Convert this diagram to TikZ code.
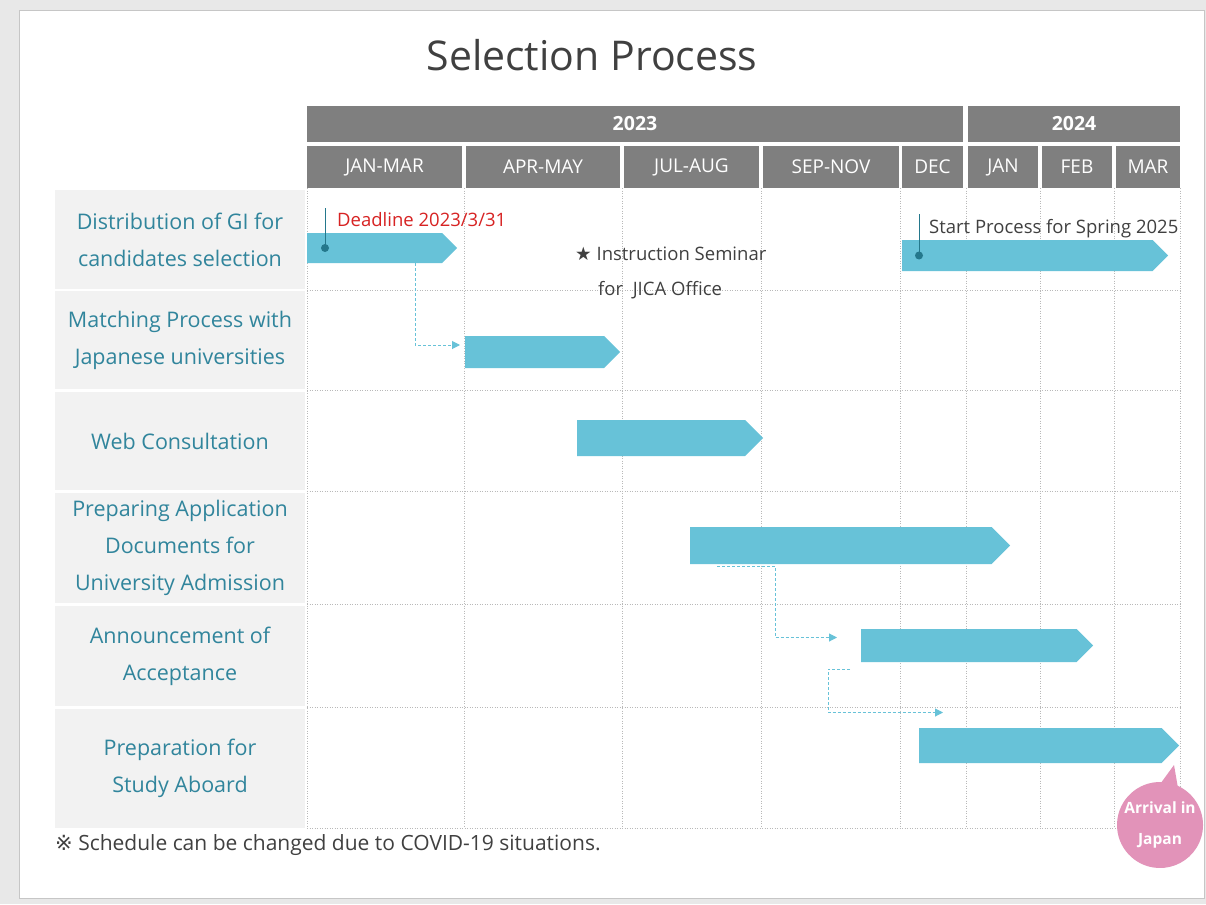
\documentclass[tikz,border=0pt]{standalone}
\usepackage{fontspec}
\setmainfont{Open Sans}
\newfontfamily\symfont{DejaVu Sans}
\usetikzlibrary{shapes.symbols,shapes.callouts,arrows.meta,positioning}
\definecolor{barblue}{RGB}{103,194,216}
\definecolor{headgray}{RGB}{127,127,127}
\definecolor{labelteal}{RGB}{49,133,156}
\definecolor{rowgray}{RGB}{242,242,242}
\definecolor{gridgray}{RGB}{185,185,185}
\definecolor{textgray}{RGB}{64,64,64}
\definecolor{deadred}{RGB}{215,35,35}
\definecolor{pinteal}{RGB}{36,120,140}
\definecolor{bubblepink}{RGB}{226,147,185}
\definecolor{framegray}{RGB}{232,232,232}
\tikzset{
  x=1pt, y=-1pt,
  yearbox/.style={fill=headgray, text=white, font=\bfseries\fontsize{19.5}{21}\selectfont, minimum height=36pt, inner sep=0pt},
  monbox/.style={fill=headgray, text=white, font=\fontsize{19}{21}\selectfont, minimum height=42pt, inner sep=0pt},
  rowlabel/.style={fill=rowgray, text=labelteal, font=\fontsize{21.5}{37}\selectfont, align=center, minimum width=250pt, inner sep=0pt},
  taskbar/.style={signal, signal to=east, signal pointer angle=90, fill=barblue, inner sep=0pt, anchor=west},
  gridline/.style={gridgray, line width=0.8pt, dash pattern=on 1pt off 1.5pt},
  link/.style={barblue, line width=1pt, dash pattern=on 3pt off 2pt, -{Triangle[length=8pt,width=8pt]}},
  pinline/.style={pinteal, line width=0.8pt},
  pindot/.style={circle, fill=pinteal, inner sep=0pt, minimum size=8pt},
  note/.style={text=textgray, font=\fontsize{18.5}{21}\selectfont, inner sep=0pt, anchor=west},
  bubble/.style={ellipse callout, fill=bubblepink, minimum width=86pt, minimum height=86pt, inner sep=0pt, callout pointer arc=22},
  bubbletext/.style={text=white, font=\bfseries\fontsize{15.5}{31}\selectfont, align=center, inner sep=0pt},
}
\begin{document}
\begin{tikzpicture}
\useasboundingbox (0,0) rectangle (1206,904);
\fill[framegray] (0,0) rectangle (1206,904);
\filldraw[fill=white, draw=gray!45, line width=0.8pt] (19,10) rectangle (1204,898);
\node[font=\fontsize{41}{45}\selectfont, text=textgray] (title) at (592,55) {Selection Process};
% years and months
\node[yearbox, minimum width=656pt] (y2023) at (635,124) {2023};
\node[yearbox, minimum width=212pt] (y2024) at (1074,124) {2024};
\node[monbox, minimum width=155pt] (m1) at (384.5,167) {JAN-MAR};
\node[monbox, minimum width=154pt] (m2) at (543,167) {APR-MAY};
\node[monbox, minimum width=135pt] (m3) at (691.5,167) {JUL-AUG};
\node[monbox, minimum width=136pt] (m4) at (831,167) {SEP-NOV};
\node[monbox, minimum width=61pt] (m5) at (932.5,167) {DEC};
\node[monbox, minimum width=70pt] (m6) at (1003,167) {JAN};
\node[monbox, minimum width=70pt] (m7) at (1077,167) {FEB};
\node[monbox, minimum width=64pt] (m8) at (1148,167) {MAR};
% row labels
\node[rowlabel, minimum height=99pt] (r1) at (180,239.5) {Distribution of GI for\\candidates selection};
\node[rowlabel, minimum height=98pt] (r2) at (180,340) {Matching Process with\\Japanese universities};
\node[rowlabel, minimum height=98pt] (r3) at (180,441) {Web Consultation};
\node[rowlabel, minimum height=110pt] (r4) at (180,548) {Preparing Application\\Documents for\\University Admission};
\node[rowlabel, minimum height=100pt] (r5) at (180,656) {Announcement of\\Acceptance};
\node[rowlabel, minimum height=119pt] (r6) at (180,768.5) {Preparation for\\Study Aboard};
% grid
\draw[gridline] (307,188) -- (307,828);
\draw[gridline] (464,188) -- (464,828);
\draw[gridline] (622,188) -- (622,828);
\draw[gridline] (761,188) -- (761,828);
\draw[gridline] (900,188) -- (900,828);
\draw[gridline] (966,188) -- (966,828);
\draw[gridline] (1040,188) -- (1040,828);
\draw[gridline] (1114,188) -- (1114,828);
\draw[gridline] (1180,188) -- (1180,828);
\draw[gridline] (307,290) -- (1180,290);
\draw[gridline] (307,390) -- (1180,390);
\draw[gridline] (307,491) -- (1180,491);
\draw[gridline] (307,604) -- (1180,604);
\draw[gridline] (307,707) -- (1180,707);
\draw[gridline] (307,828) -- (1180,828);
% bars
\node[taskbar, minimum width=150pt, minimum height=30pt] (bar1) at (307,248) {};
\node[taskbar, minimum width=266pt, minimum height=31pt] (bar1b) at (902,255.5) {};
\node[taskbar, minimum width=155pt, minimum height=32pt] (bar2) at (465,352) {};
\node[taskbar, minimum width=186pt, minimum height=36pt] (bar3) at (577,438) {};
\node[taskbar, minimum width=320pt, minimum height=37pt] (bar4) at (690,545.5) {};
\node[taskbar, minimum width=232pt, minimum height=33pt] (bar5) at (861,645.5) {};
\node[taskbar, minimum width=260pt, minimum height=35pt] (bar6) at (919,745.5) {};
% pins and notes
\node[pindot] (dl) at ([xshift=18pt]bar1.west) {};
\draw[pinline] (dl.center) -- ++(0,-40);
\node[note, text=deadred] (dltext) at (337,220) {Deadline 2023/3/31};
\node[pindot] (sp) at ([xshift=17pt]bar1b.west) {};
\draw[pinline] (sp.center) -- ++(0,-42);
\node[note] (sptext) at (929,229) {Start Process for Spring 2025};
\node[note] (seminar) at (575,254) {{\symfont ★} Instruction Seminar};
\node[note] (office) at (598,290) {for\ \ JICA Office};
% links
\draw[link] ([xshift=108pt]bar1.south west) |- ([shift={(-5pt,7pt)}]bar2.west);
\draw[link] ([shift={(27pt,-2pt)}]bar4.south west) -- ++(58,0) |- ([shift={(-24pt,8pt)}]bar5.west);
\draw[link] ([shift={(-11pt,-7pt)}]bar5.south west) -- ++(-22,0) |- ([shift={(24pt,33pt)}]bar6.west);
% arrival
\node[bubble, callout absolute pointer={(1174,765)}] (arrive) at (1160,825) {};
\node[bubbletext] (arrivetext) at (arrive.center) {Arrival in\\Japan};
\node[note, font=\fontsize{21}{23}\selectfont] (foot) at (55,845) {{\symfont ※} Schedule can be changed due to COVID-19 situations.};
\end{tikzpicture}
\end{document}
